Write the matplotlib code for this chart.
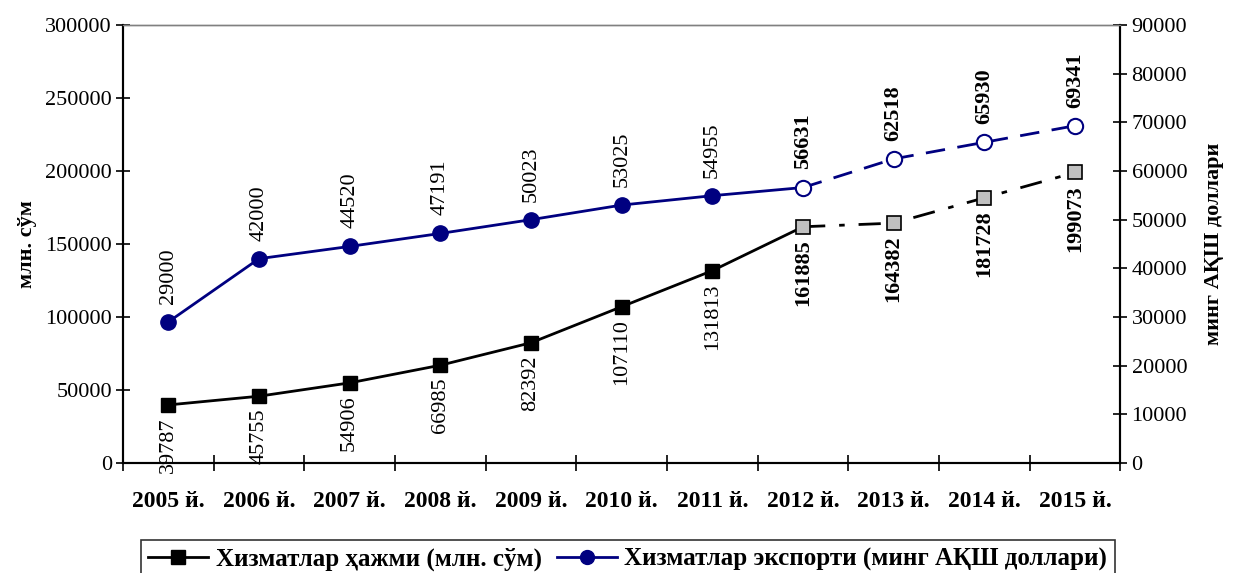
import matplotlib.pyplot as plt
from matplotlib.lines import Line2D
import numpy as np

plt.rcParams['font.family'] = ['Liberation Serif', 'DejaVu Serif']

years = ['2005 й.', '2006 й.', '2007 й.', '2008 й.', '2009 й.', '2010 й.',
         '2011 й.', '2012 й.', '2013 й.', '2014 й.', '2015 й.']
hajm = [39787, 45755, 54906, 66985, 82392, 107110, 131813, 161885, 164382, 181728, 199073]
eksport = [29000, 42000, 44520, 47191, 50023, 53025, 54955, 56631, 62518, 65930, 69341]
# from 2012 on the values are a forecast
prognoz = 7

x = np.arange(len(years))
navy = '#000080'

fig = plt.figure(figsize=(12.36, 5.73), dpi=100)
ax = fig.add_axes([0.0995, 0.192, 0.807, 0.764])
ax2 = ax.twinx()

# services volume, left axis
ax.plot(x[:prognoz + 1], hajm[:prognoz + 1], color='black', lw=2, zorder=3)
ax.plot(x[prognoz:], hajm[prognoz:], color='black', lw=2, ls=(0, (8, 5, 2, 5)), zorder=3)
ax.plot(x[:prognoz], hajm[:prognoz], 's', color='black', ms=10.5, zorder=4)
ax.plot(x[prognoz:], hajm[prognoz:], 's', mfc='#c0c0c0', mec='black', mew=1.2, ms=10.5, zorder=4)

# services export, right axis
ax2.plot(x[:prognoz + 1], eksport[:prognoz + 1], color=navy, lw=2, zorder=3)
ax2.plot(x[prognoz:], eksport[prognoz:], color=navy, lw=2, ls=(0, (7, 4.5)), zorder=3)
ax2.plot(x[:prognoz], eksport[:prognoz], 'o', color=navy, ms=11, zorder=4)
ax2.plot(x[prognoz:], eksport[prognoz:], 'o', mfc='white', mec=navy, mew=1.5, ms=11, zorder=4)

for i in range(len(x)):
    w = 'bold' if i >= prognoz else 'normal'
    ax.annotate(str(hajm[i]), (x[i], hajm[i]), xytext=(0, -9), textcoords='offset points',
                rotation=90, ha='center', va='top', fontsize=16, fontweight=w,
                annotation_clip=False)
    ax2.annotate(str(eksport[i]), (x[i], eksport[i]), xytext=(0, 13), textcoords='offset points',
                 rotation=90, ha='center', va='bottom', fontsize=16, fontweight=w)

ax.set_xlim(-0.5, len(x) - 0.5)
ax.set_ylim(0, 300000)
ax2.set_ylim(0, 90000)
ax.set_yticks(np.arange(0, 300001, 50000))
ax2.set_yticks(np.arange(0, 90001, 10000))

ax.set_xticks(x)
ax.set_xticklabels(years, fontsize=17, fontweight='bold')
ax.set_xticks(np.arange(-0.5, len(x), 1), minor=True)
ax.tick_params(axis='x', which='major', length=0, pad=20)
ax.tick_params(axis='x', which='minor', direction='inout', length=12, width=1.2)
ax.tick_params(axis='y', direction='inout', length=10, width=1.2, labelsize=16, pad=3)
ax2.tick_params(axis='y', direction='inout', length=10, width=1.2, labelsize=16, pad=3)

for a in (ax, ax2):
    a.spines['top'].set_color('#808080')
    a.spines['top'].set_linewidth(1)
    for s in ('left', 'right', 'bottom'):
        a.spines[s].set_linewidth(1.5)

ax.set_ylabel('млн. сўм', fontsize=16, fontweight='bold', labelpad=6)
ax2.set_ylabel('минг АҚШ доллари', fontsize=16, fontweight='bold', labelpad=12)

handles = [
    Line2D([], [], color='black', lw=2, marker='s', ms=10),
    Line2D([], [], color=navy, lw=2, marker='o', ms=10),
]
labels = ['Хизматлар ҳажми (млн. сўм)', 'Хизматлар экспорти (минг АҚШ доллари)']
leg = fig.legend(handles, labels, loc='upper center', bbox_to_anchor=(0.508, 0.058),
                 ncol=2, frameon=True, fancybox=False, edgecolor='black',
                 prop={'size': 18, 'weight': 'bold'}, handlelength=2.4,
                 handletextpad=0.3, columnspacing=0.6, borderpad=0.3,
                 borderaxespad=0)
leg.get_frame().set_linewidth(1.2)

fig.savefig('out.png', dpi=100)
